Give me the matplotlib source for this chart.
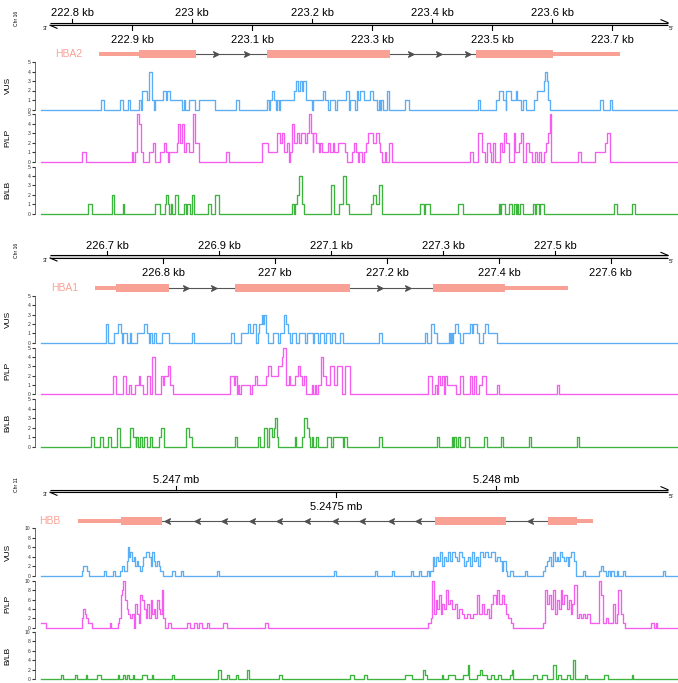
import matplotlib
matplotlib.use("Agg")
import matplotlib.pyplot as plt
from matplotlib.patches import Rectangle
from matplotlib.path import Path

plt.rcParams['font.family'] = ['Liberation Sans', 'DejaVu Sans']

# ---------------- data (genomic positions in bp, counts per step) ----------------
HBA2_WINDOW = (222738, 223810)
HBA1_WINDOW = (226571, 227720)
HBB_WINDOW = (5246559, 5248569)

HBA2_TOP_TICKS = [222.8, 223.0, 223.2, 223.4, 223.6]      # kb
HBA2_BOTTOM_TICKS = [222.9, 223.1, 223.3, 223.5, 223.7]   # kb
HBA1_TOP_TICKS = [226.7, 226.9, 227.1, 227.3, 227.5]
HBA1_BOTTOM_TICKS = [226.8, 227.0, 227.2, 227.4, 227.6]
HBB_TOP_TICKS = [5.247, 5.248]                            # mb
HBB_BOTTOM_TICKS = [5.2475]

HBA2_UTR = [(222845, 222912), (223602, 223713)]
HBA2_EXONS = [(222912, 223007), (223125, 223330), (223473, 223602)]
HBA2_ARROWS = [223040, 223092, 223365, 223412, 223460]
HBA1_UTR = [(226679, 226716), (227411, 227523)]
HBA1_EXONS = [(226716, 226811), (226929, 227133), (227283, 227411)]
HBA1_ARROWS = [226841, 226891, 227188, 227238]
HBB_UTR = [(5246694, 5246828), (5248253, 5248303)]
HBB_EXONS = [(5246828, 5246956), (5247809, 5248031), (5248162, 5248253)]
HBB_ARROWS = [5246972, 5247066, 5247150, 5247238, 5247322, 5247409, 5247497,
              5247581, 5247672, 5247756, 5248106]

HBA2_VUS = [(222748,0),(222848,1),(222853,0),(222880,1),(222884,0),(222893,1),(222897,0),(222911,1),(222914,0),(222917,2),
            (222924,1),(222928,4),(222933,1),(222936,0),(222938,1),(222952,2),(222957,1),(222958,2),(222963,1),(222983,0),
            (222986,1),(222988,0),(222994,1),(223005,0),(223012,1),(223038,0),(223073,1),(223078,0),(223124,1),(223128,0),
            (223130,1),(223133,2),(223137,1),(223139,0),(223141,1),(223144,0),(223146,1),(223169,2),(223173,3),(223177,2),
            (223179,3),(223183,2),(223184,3),(223190,1),(223199,0),(223202,1),(223218,2),(223222,1),(223227,0),(223230,1),
            (223238,0),(223241,1),(223256,2),(223261,0),(223263,1),(223272,0),(223274,2),(223277,1),(223280,2),(223287,1),
            (223296,2),(223302,1),(223309,0),(223311,1),(223313,0),(223315,1),(223318,0),(223325,2),(223329,0),(223355,1),
            (223362,0),(223476,1),(223480,0),(223506,1),(223512,2),(223519,1),(223523,0),(223524,2),(223531,1),(223540,2),
            (223542,1),(223549,0),(223552,1),(223556,0),(223570,1),(223575,2),(223586,3),(223588,4),(223591,3),(223594,1),
            (223597,0),(223680,1),(223685,0),(223696,1),(223700,0)]
HBA2_PLP = [(222748,0),(222817,1),(222823,0),(222899,1),(222902,0),(222904,1),(222908,5),(222912,4),(222914,1),(222918,0),
            (222928,1),(222934,2),(222938,0),(222947,1),(222953,2),(222957,1),(222959,0),(222962,1),(222974,2),(222977,4),
            (222980,2),(222983,4),(222987,1),(222990,2),(222994,1),(223001,5),(223005,2),(223012,0),(223057,1),(223062,0),
            (223116,2),(223127,1),(223142,3),(223146,2),(223149,3),(223153,1),(223158,2),(223161,0),(223163,1),(223166,4),
            (223170,2),(223174,3),(223178,2),(223182,3),(223188,2),(223191,3),(223194,5),(223198,3),(223201,1),(223202,3),
            (223207,2),(223211,1),(223213,2),(223216,1),(223227,2),(223230,1),(223234,2),(223237,1),(223243,2),(223255,1),
            (223258,0),(223266,1),(223269,2),(223273,1),(223276,0),(223279,1),(223283,0),(223286,1),(223290,2),(223294,3),
            (223302,2),(223307,3),(223311,2),(223313,1),(223316,0),(223322,1),(223324,0),(223329,2),(223333,0),(223463,1),
            (223469,0),(223477,3),(223484,1),(223488,0),(223492,2),(223496,1),(223498,0),(223501,2),(223505,0),(223513,2),
            (223517,1),(223520,3),(223524,2),(223528,0),(223536,3),(223538,1),(223545,2),(223548,3),(223552,0),(223556,2),
            (223561,1),(223566,0),(223572,1),(223575,0),(223578,1),(223582,0),(223586,1),(223590,2),(223594,3),(223596,5),
            (223599,0),(223644,1),(223648,0),(223672,1),(223688,2),(223692,3),(223696,0)]
HBA2_BLB = [(222748,0),(222827,1),(222833,0),(222866,2),(222870,0),(222884,1),(222887,0),(222938,1),(222947,0),(222954,1),
            (222956,2),(222959,1),(222962,0),(222964,1),(222967,0),(222972,2),(222976,0),(222987,1),(222990,0),(222992,1),
            (222997,0),(222999,2),(223003,0),(223027,1),(223032,0),(223038,2),(223044,0),(223166,1),(223169,0),(223171,1),
            (223174,2),(223178,4),(223183,1),(223186,0),(223232,3),(223236,0),(223244,1),(223251,4),(223256,1),(223261,0),
            (223298,1),(223302,2),(223306,1),(223311,3),(223316,0),(223380,1),(223386,0),(223388,1),(223396,0),(223444,1),
            (223451,0),(223511,1),(223513,0),(223515,1),(223522,0),(223529,1),(223533,0),(223536,1),(223540,0),(223541,1),
            (223544,0),(223546,1),(223552,0),(223568,1),(223572,0),(223574,1),(223579,0),(223580,1),(223587,0),(223704,1),
            (223709,0),(223733,1),(223738,0)]

HBA1_VUS = [(226582,0),(226697,2),(226701,0),(226712,1),(226720,2),(226724,1),(226727,0),(226729,1),(226736,0),(226740,1),
            (226743,0),(226753,1),(226766,2),(226771,1),(226774,0),(226777,1),(226780,0),(226784,1),(226787,0),(226798,1),
            (226810,0),(226851,1),(226856,0),(226921,1),(226926,0),(226939,1),(226952,2),(226955,1),(226961,2),(226966,0),
            (226969,1),(226972,2),(226976,3),(226979,2),(226981,3),(226984,1),(226987,0),(226996,1),(227006,0),(227009,1),
            (227016,3),(227020,2),(227023,1),(227027,0),(227030,1),(227038,0),(227042,1),(227054,0),(227057,1),(227067,0),
            (227070,1),(227077,0),(227080,1),(227088,0),(227091,1),(227098,0),(227101,1),(227107,0),(227116,1),(227122,0),
            (227185,1),(227191,0),(227268,1),(227272,0),(227278,2),(227284,1),(227289,0),(227310,1),(227313,0),(227314,1),
            (227317,0),(227318,1),(227321,2),(227326,1),(227330,0),(227335,1),(227348,2),(227351,1),(227353,2),(227360,1),
            (227365,0),(227372,1),(227376,2),(227380,1),(227396,0)]
HBA1_PLP = [(226582,0),(226711,2),(226716,0),(226729,2),(226734,0),(226739,1),(226743,0),(226750,1),(226756,2),(226759,1),
            (226764,0),(226772,2),(226776,0),(226780,4),(226785,0),(226796,2),(226799,1),(226802,2),(226808,3),(226812,1),
            (226817,0),(226920,2),(226926,1),(226929,2),(226932,0),(226934,1),(226936,0),(226939,1),(226955,0),(226958,1),
            (226964,2),(226967,1),(226983,2),(226988,3),(226992,2),(227006,3),(227012,4),(227015,5),(227019,1),(227024,2),
            (227027,1),(227036,2),(227041,3),(227045,2),(227048,1),(227051,2),(227055,0),(227066,1),(227068,0),(227071,1),
            (227074,0),(227077,1),(227082,4),(227086,2),(227091,1),(227098,3),(227105,1),(227110,3),(227119,0),(227125,3),
            (227134,0),(227274,2),
            (227280,0),(227286,1),(227289,0),(227291,2),(227295,1),(227298,2),(227302,0),(227304,2),(227307,1),(227324,0),
            (227330,2),(227336,0),(227348,2),(227351,0),(227355,2),(227359,0),(227365,1),(227369,2),(227377,0),(227396,1),
            (227401,0),(227503,1),(227507,0)]
HBA1_BLB = [(226582,0),(226671,1),(226676,0),(226688,1),(226692,0),(226702,1),(226707,0),(226717,2),(226722,0),(226741,2),
            (226746,1),(226751,0),(226752,1),(226755,0),(226758,1),(226762,0),(226765,1),(226771,0),(226776,1),(226780,0),
            (226793,1),(226796,2),(226801,0),(226841,2),(226847,1),(226851,0),(226929,1),(226932,0),(226970,1),(226973,0),
            (226981,2),(226985,0),(226990,2),(226994,1),(226998,2),(227000,3),(227004,1),(227006,0),(227035,1),(227038,0),
            (227048,1),(227052,3),(227057,2),(227060,1),(227063,0),(227066,1),(227068,0),(227073,1),(227077,0),(227092,1),
            (227100,0),(227104,1),(227121,0),(227123,1),(227129,0),(227185,1),(227191,0),(227289,1),(227293,0),(227316,1),
            (227318,0),(227320,1),(227324,0),(227326,1),(227330,0),(227339,1),(227346,0),(227373,1),(227378,0),(227404,1),
            (227408,0),(227454,1),(227458,0),(227539,1),(227543,0)]

HBB_VUS = [(5246578,0),(5246705,1),(5246710,2),(5246723,1),(5246729,0),(5246776,1),(5246781,0),(5246804,1),(5246808,0),
           (5246825,1),(5246832,2),(5246838,1),(5246846,3),(5246849,6),(5246853,4),(5246857,5),(5246862,3),(5246867,4),
           (5246872,2),(5246877,3),(5246882,2),(5246888,1),(5246893,2),(5246898,4),(5246905,5),(5246916,4),(5246921,2),
           (5246925,5),(5246931,3),(5246935,2),(5246940,3),(5246946,2),(5246950,1),(5246958,0),(5246986,1),(5246997,0),
           (5247016,1),(5247023,0),(5247127,1),(5247133,0),(5247494,1),(5247500,0),(5247622,1),(5247629,0),(5247674,1),
           (5247681,0),(5247734,1),(5247742,0),(5247759,1),(5247766,0),(5247785,1),(5247792,0),(5247794,1),(5247802,4),
           (5247807,2),(5247812,4),(5247820,3),(5247825,5),(5247830,2),(5247838,4),(5247844,3),(5247851,5),(5247856,3),
           (5247864,5),(5247872,4),(5247879,3),(5247884,5),(5247893,4),(5247900,2),(5247906,3),(5247911,4),(5247919,2),
           (5247924,5),(5247932,3),(5247938,4),(5247945,2),(5247950,5),(5247958,4),(5247966,5),(5247976,4),(5247986,5),
           (5247997,3),(5248004,4),(5248012,3),(5248018,1),(5248023,3),(5248030,1),(5248035,0),(5248044,1),(5248052,0),
           (5248091,1),(5248098,0),(5248148,1),(5248153,2),(5248160,3),(5248167,4),(5248171,2),(5248177,5),(5248184,3),
           (5248190,4),(5248195,3),(5248200,5),(5248207,4),(5248212,3),(5248218,4),(5248224,2),(5248229,4),(5248236,5),
           (5248244,3),(5248250,0),(5248273,1),(5248279,0),(5248323,1),(5248329,2),(5248335,1),(5248343,0),(5248349,1),
           (5248356,0),(5248361,1),(5248370,0),(5248377,1),(5248383,0),(5248398,1),(5248403,0),(5248521,1),(5248528,0)]
HBB_PLP = [(5246578,1),(5246594,0),(5246705,2),(5246708,4),(5246714,3),(5246719,2),(5246724,1),(5246736,0),(5246792,1),
           (5246797,0),(5246817,1),(5246823,2),(5246827,7),(5246832,8),(5246835,10),(5246840,6),(5246846,4),(5246851,3),
           (5246856,2),(5246862,3),(5246867,0),(5246872,5),(5246879,3),(5246884,1),(5246888,7),(5246895,6),(5246900,4),
           (5246905,2),(5246908,5),(5246916,2),(5246921,6),(5246926,3),(5246931,4),(5246935,2),(5246940,6),(5246946,4),
           (5246950,3),(5246955,8),(5246960,2),(5246966,0),(5246976,1),(5246983,0),(5247033,1),(5247044,0),(5247057,1),
           (5247065,0),(5247073,1),(5247080,0),(5247098,1),(5247104,0),(5247148,1),(5247158,0),(5247278,1),(5247286,0),
           (5247789,1),(5247796,2),(5247801,10),(5247806,3),(5247811,6),(5247817,4),(5247822,7),(5247827,3),(5247832,5),
           (5247838,4),(5247844,8),(5247849,5),(5247856,6),(5247864,4),(5247872,5),(5247879,2),(5247884,4),(5247893,3),
           (5247900,2),(5247908,3),(5247919,2),(5247929,3),(5247940,7),(5247948,3),(5247955,5),(5247963,3),(5247971,4),
           (5247978,2),(5247986,5),(5247992,7),(5247999,5),(5248004,8),(5248010,5),(5248018,7),(5248025,5),(5248030,3),
           (5248039,2),(5248047,1),(5248054,0),(5248148,1),(5248153,8),(5248160,5),(5248166,7),(5248172,4),(5248179,8),
           (5248184,3),(5248190,6),(5248196,4),(5248202,8),(5248207,5),(5248214,7),(5248221,4),(5248228,6),(5248233,3),
           (5248239,5),(5248245,9),(5248252,2),(5248259,3),(5248265,2),(5248271,3),(5248278,2),(5248285,3),(5248294,1),
           (5248323,10),(5248328,7),(5248333,1),(5248344,2),(5248351,1),(5248367,5),(5248373,1),(5248379,3),(5248383,8),
           (5248390,3),(5248396,1),(5248403,0),(5248486,1),(5248494,0),(5248499,1),(5248504,0)]
HBB_BLB = [(5246578,0),(5246640,1),(5246646,0),(5246684,1),(5246690,0),(5246719,1),(5246723,0),(5246754,1),(5246766,0),
           (5246817,1),(5246822,0),(5246835,1),(5246840,0),(5246848,1),(5246852,0),(5246865,1),(5246870,0),(5246893,1),
           (5246908,0),(5246925,1),(5246929,0),(5246986,1),(5246994,0),(5247132,2),(5247140,0),(5247158,1),(5247165,0),
           (5247188,1),(5247194,0),(5247223,2),(5247229,0),(5247323,1),(5247330,0),(5247544,1),(5247556,0),(5247587,1),
           (5247598,0),(5247716,1),(5247736,0),(5247771,2),(5247778,1),(5247785,0),(5247830,1),(5247835,0),(5247851,1),
           (5247872,0),(5247898,1),(5247911,3),(5247917,0),(5247940,1),(5247950,2),(5247955,1),(5247971,0),(5247986,1),
           (5247994,0),(5248007,1),(5248015,0),(5248044,1),(5248049,2),(5248054,0),(5248115,1),(5248127,0),(5248143,1),
           (5248158,0),(5248179,3),(5248188,0),(5248195,1),(5248202,0),(5248223,1),(5248231,0),(5248240,4),(5248247,0),
           (5248278,1),(5248285,0),(5248339,1),(5248351,0),(5248424,1),(5248429,0)]

TRACK_NAMES = ['VUS', 'P/LP', 'B/LB']

# ---------------- styling / layout ----------------
C_VUS, C_PLP, C_BLB = '#5AAEF6', '#F55CF0', '#3DB43D'
C_GENE = '#F9A194'
TRACK_COLORS = [C_VUS, C_PLP, C_BLB]

W, H = 678, 683
fig = plt.figure(figsize=(W / 100, H / 100), dpi=100)
AX_X0, AX_X1 = 35, 678
IDEO_X0, IDEO_X1 = 50, 668


def add_ax(y0, y1):
    return fig.add_axes([AX_X0 / W, 1 - y1 / H, (AX_X1 - AX_X0) / W, (y1 - y0) / H])


def px2g(win, px):
    return win[0] + (px - AX_X0) * (win[1] - win[0]) / (AX_X1 - AX_X0)


def arrow_path(direction):
    d = 1 if direction > 0 else -1
    verts = [(-d, 0.9), (0.8 * d, 0), (-d, -0.9), (-0.3 * d, 0), (-d, 0.9)]
    return Path(verts, [Path.MOVETO, Path.LINETO, Path.LINETO, Path.LINETO, Path.CLOSEPOLY])


panels = [
    dict(win=HBA2_WINDOW, chrom='Chr 16', gene='HBA2', utr=HBA2_UTR, exons=HBA2_EXONS, arrows=HBA2_ARROWS,
         strand=1, top=HBA2_TOP_TICKS, bottom=HBA2_BOTTOM_TICKS, unit='kb', line=24, gene_y=54,
         tracks=[HBA2_VUS, HBA2_PLP, HBA2_BLB],
         boxes=[(62, 109.5), (114, 162), (166.7, 213.5)], ymax=5, yticks=[0, 1, 2, 3, 4, 5]),
    dict(win=HBA1_WINDOW, chrom='Chr 16', gene='HBA1', utr=HBA1_UTR, exons=HBA1_EXONS, arrows=HBA1_ARROWS,
         strand=1, top=HBA1_TOP_TICKS, bottom=HBA1_BOTTOM_TICKS, unit='kb', line=256.7, gene_y=288,
         tracks=[HBA1_VUS, HBA1_PLP, HBA1_BLB],
         boxes=[(296, 342.7), (347.7, 394.3), (399.3, 446.7)], ymax=5, yticks=[0, 1, 2, 3, 4, 5]),
    dict(win=HBB_WINDOW, chrom='Chr 11', gene='HBB', utr=HBB_UTR, exons=HBB_EXONS, arrows=HBB_ARROWS,
         strand=-1, top=HBB_TOP_TICKS, bottom=HBB_BOTTOM_TICKS, unit='mb', line=491, gene_y=521,
         tracks=[HBB_VUS, HBB_PLP, HBB_BLB],
         boxes=[(528.3, 575.7), (580.7, 627.7), (632, 679.3)], ymax=10, yticks=[0, 2, 4, 6, 8, 10]),
]

for p in panels:
    win = p['win']
    L = p['line']
    scale = 1000 if p['unit'] == 'kb' else 1e6
    # ---- band axes: ideogram + gene model (x genomic, y in figure pixels) ----
    y0, y1 = L - 22, p['gene_y'] + 6
    band = add_ax(y0, y1)
    band.set_xlim(*win)
    band.set_ylim(y1, y0)
    band.axis('off')
    gx0, gx1 = px2g(win, IDEO_X0), px2g(win, IDEO_X1)
    band.add_patch(Rectangle((gx0, L - 1.3), gx1 - gx0, 2.6, facecolor='#cfcfcf', edgecolor='none'))
    band.plot([gx0, gx1], [L - 1.3, L - 1.3], color='black', lw=0.8, solid_capstyle='butt')
    band.plot([gx0, gx1], [L + 1.3, L + 1.3], color='black', lw=0.8, solid_capstyle='butt')
    dpx = (win[1] - win[0]) / (AX_X1 - AX_X0)
    band.plot([gx1, gx1 - 7 * dpx], [L - 1.3, L - 4.3], color='black', lw=0.8)
    band.plot([gx0, gx0 + 7 * dpx], [L + 1.3, L + 4.3], color='black', lw=0.8)
    for t in p['top']:
        g = t * scale
        band.plot([g, g], [L - 1.3, L - 5.5], color='black', lw=0.8)
        band.text(g, L - 8, '%g %s' % (t, p['unit']), ha='center', va='baseline', fontsize=8, clip_on=False)
    for t in p['bottom']:
        g = t * scale
        band.plot([g, g], [L + 1.3, L + 6], color='black', lw=0.8)
        band.text(g, L + 19, '%g %s' % (t, p['unit']), ha='center', va='baseline', fontsize=8, clip_on=False)
    fig.text(17 / W, 1 - (L - 6) / H, p['chrom'], rotation=90, ha='center', va='center', fontsize=3.6)
    fig.text(45 / W, 1 - (L + 4) / H, "3'", ha='center', va='center', fontsize=4.5)
    fig.text(671.5 / W, 1 - (L + 5) / H, "5'", ha='center', va='center', fontsize=4.5)

    # gene model
    gy = p['gene_y']
    ex = p['exons']
    for (a, b), (c, d) in zip(ex[:-1], ex[1:]):
        band.plot([b, c], [gy, gy], color='#555555', lw=0.8, zorder=1)
    for a, b in p['utr']:
        band.add_patch(Rectangle((a, gy - 2), b - a, 4, facecolor=C_GENE, edgecolor='none', zorder=2))
    for a, b in ex:
        band.add_patch(Rectangle((a, gy - 4), b - a, 8, facecolor=C_GENE, edgecolor='none', zorder=2))
    band.plot(p['arrows'], [gy] * len(p['arrows']), linestyle='none', marker=arrow_path(p['strand']),
              markersize=4.2, color='#505050', zorder=3)
    gstart = min(a for a, b in p['utr'] + ex)
    band.annotate(p['gene'], xy=(gstart, gy), xytext=(-12.5, 0), textcoords='offset points',
                  ha='right', va='center', fontsize=7.5, color=C_GENE, annotation_clip=False)

    # ---- data tracks ----
    for name, data, (ty0, ty1), col in zip(TRACK_NAMES, p['tracks'], p['boxes'], TRACK_COLORS):
        ax = add_ax(ty0, ty1)
        xs = [d[0] for d in data] + [win[1]]
        ys = [d[1] for d in data] + [data[-1][1]]
        ax.step(xs, ys, where='post', color=col, lw=0.95, clip_on=False)
        ax.set_xlim(*win)
        ax.set_ylim(0, p['ymax'])
        ax.set_yticks(p['yticks'])
        ax.set_xticks([])
        for s in ('top', 'right', 'bottom'):
            ax.spines[s].set_visible(False)
        ax.spines['left'].set_linewidth(0.5)
        ax.spines['left'].set_color('#333333')
        ax.tick_params(axis='y', labelsize=3.6, length=2.2, width=0.8, pad=1, colors='#333333')
        ax.patch.set_alpha(0)
        fig.text(8 / W, 1 - (ty0 + ty1) / 2 / H, name, rotation=90, ha='center', va='center', fontsize=6)

fig.savefig('out.png', dpi=100)
